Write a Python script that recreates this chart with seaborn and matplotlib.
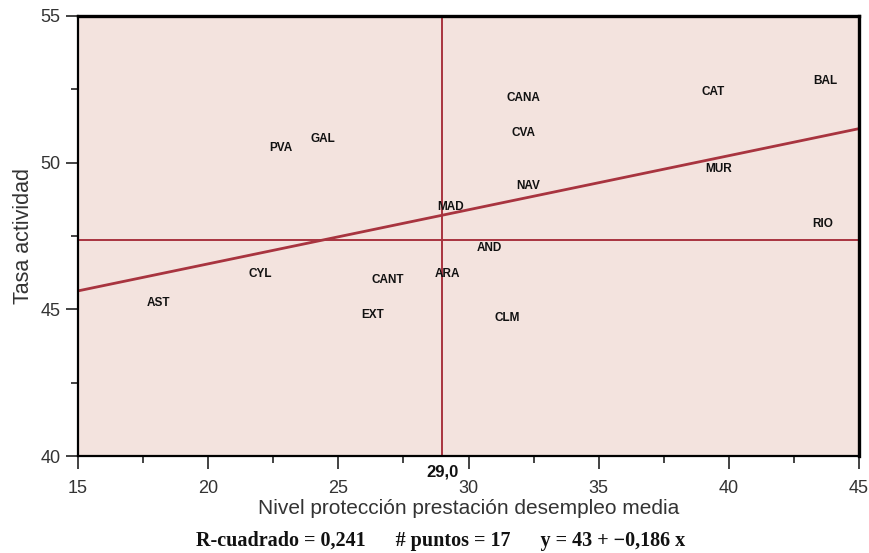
import numpy as np
import pandas as pd
import matplotlib
matplotlib.use("Agg")
import matplotlib.pyplot as plt
import seaborn as sns
from matplotlib.ticker import MultipleLocator

# datos
regiones = ["PVA", "GAL", "CANA", "CVA", "CAT", "BAL", "MUR", "NAV", "MAD",
            "RIO", "AND", "CYL", "CANT", "ARA", "AST", "EXT", "CLM"]
proteccion = [22.8, 24.4, 32.1, 32.1, 39.4, 43.7, 39.6, 32.3, 29.3,
              43.6, 30.8, 22.0, 26.9, 29.2, 18.1, 26.3, 31.5]
tasa = [50.5, 50.8, 52.2, 51.0, 52.4, 52.8, 49.8, 49.2, 48.5,
        47.9, 47.1, 46.2, 46.0, 46.2, 45.2, 44.8, 44.7]

media_x = 29.0
media_y = 47.35

df = pd.DataFrame({"region": regiones, "x": proteccion, "y": tasa})

rojo = "#A8343F"
fondo = "#F3E3DE"

sns.set_style("ticks")
plt.rcParams["font.family"] = ["Liberation Sans", "DejaVu Sans"]

fig = plt.figure(figsize=(8.69, 5.53), dpi=100)
ax = fig.add_axes([0.0898, 0.1754, 0.8987, 0.7957])
ax.set_facecolor(fondo)
ax.set_xlim(15, 45)
ax.set_ylim(40, 55)

# lineas de referencia
ax.axvline(media_x, color=rojo, lw=1.4, zorder=1)
ax.axhline(media_y, color=rojo, lw=1.4, zorder=1)

# recta de regresion (se extiende hasta los limites del eje)
sns.regplot(data=df, x="x", y="y", scatter=False, ci=None, truncate=False,
            line_kws={"color": rojo, "lw": 2.0, "zorder": 2}, ax=ax)

for _, r in df.iterrows():
    ax.text(r["x"], r["y"], r["region"], ha="center", va="center",
            fontsize=8.5, fontweight="bold", color="#111111", zorder=3)

ax.set_xlim(15, 45)
ax.set_ylim(40, 55)
ax.xaxis.set_major_locator(MultipleLocator(5))
ax.xaxis.set_minor_locator(MultipleLocator(2.5))
ax.yaxis.set_major_locator(MultipleLocator(5))
ax.yaxis.set_minor_locator(MultipleLocator(2.5))
ax.tick_params(axis="both", which="major", length=9, width=1.2, color="#222222",
               labelsize=13, labelcolor="#333333")
ax.tick_params(axis="both", which="minor", length=5, width=1.2, color="#222222")
ax.tick_params(axis="x", pad=8)

for s in ["left", "bottom"]:
    ax.spines[s].set_linewidth(1.6)
    ax.spines[s].set_color("black")
for s in ["top", "right"]:
    ax.spines[s].set_visible(True)
    ax.spines[s].set_linewidth(2.4)
    ax.spines[s].set_color("black")

ax.set_xlabel("Nivel protección prestación desempleo media", fontsize=15,
              color="#333333", labelpad=2)
ax.set_ylabel("Tasa actividad", fontsize=15.5, color="#333333", labelpad=5)

# etiqueta del valor medio en el eje x
ax.text(media_x, -0.02, "29,0", transform=ax.get_xaxis_transform(),
        ha="center", va="top", fontsize=12, fontweight="bold", color="#111111")

fig.text(0.507, 0.0217, "R-cuadrado = 0,241      # puntos = 17      y = 43 + \u22120,186 x",
         ha="center", va="center", fontsize=14.5, fontweight="bold",
         family=["Liberation Serif", "DejaVu Serif"], color="#111111")

fig.savefig("out.png", dpi=100, facecolor="white")
